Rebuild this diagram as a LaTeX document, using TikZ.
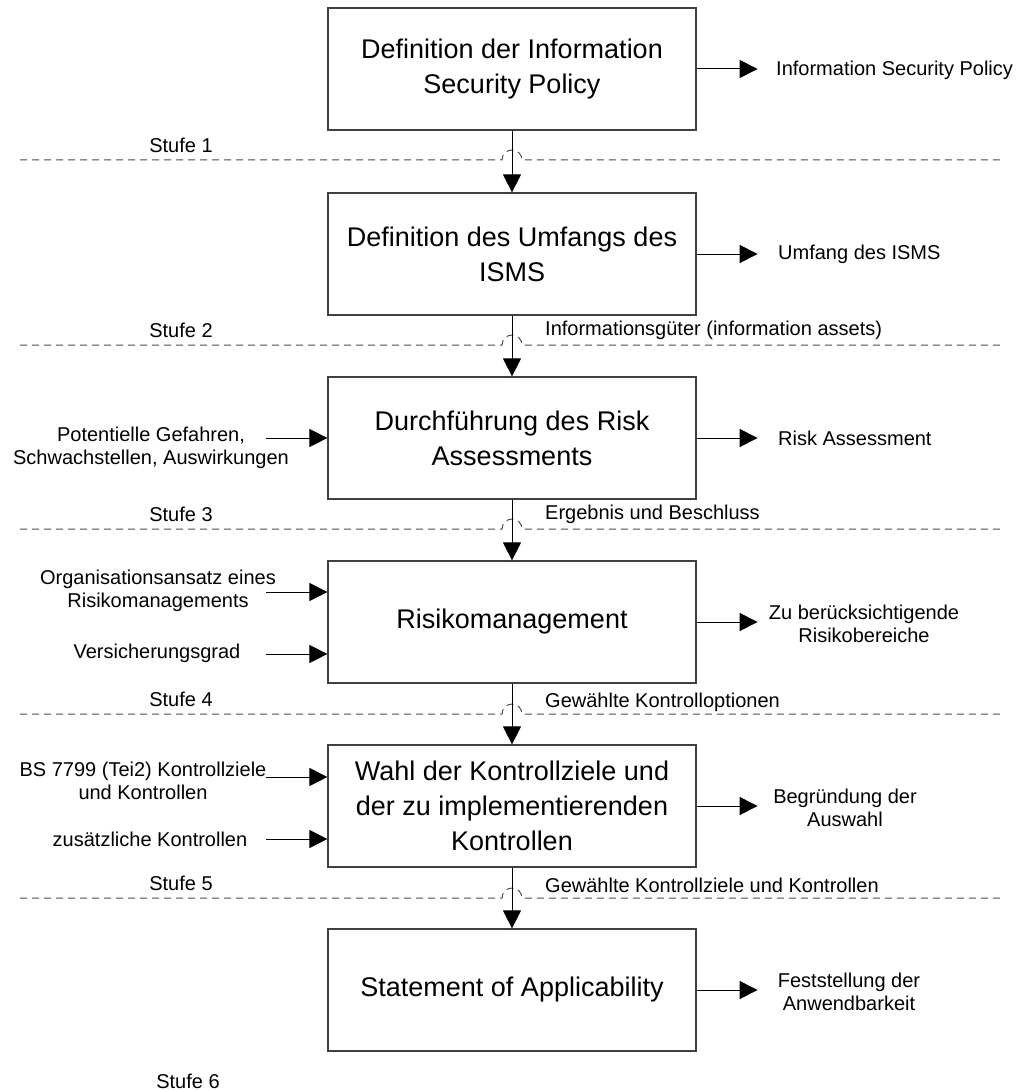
\documentclass[tikz,border=0pt]{standalone}
\usepackage{fontspec}
\setmainfont{Liberation Sans}
\usetikzlibrary{arrows.meta,positioning,calc}
\tikzset{
  stepbox/.style = {draw=black!75, fill=white, line width=1.2pt,
                    minimum width=368pt, minimum height=122pt, inner sep=0pt,
                    align=center, font=\fontsize{27}{35}\selectfont},
  lbl/.style     = {align=center, inner sep=0pt, font=\fontsize{20}{23}\selectfont},
  flow/.style    = {-{Triangle[length=18pt,width=18pt]}, draw=black, line width=1pt},
  stufe/.style   = {draw=black!70, line width=1pt, dash pattern=on 7pt off 5pt},
}
\begin{document}
\begin{tikzpicture}[x=1pt,y=-1pt]
  \useasboundingbox (0,0) rectangle (1018,1091);

  % steps
  \node[stepbox] (s1) at (512,69)  {Definition der Information\\Security Policy};
  \node[stepbox] (s2) at (512,254) {Definition des Umfangs des\\ISMS};
  \node[stepbox] (s3) at (512,438) {Durchführung des Risk\\Assessments};
  \node[stepbox] (s4) at (512,622) {Risikomanagement};
  \node[stepbox] (s5) at (512,806) {Wahl der Kontrollziele und\\der zu implementierenden\\Kontrollen};
  \node[stepbox] (s6) at (512,990) {Statement of Applicability};

  % stage separators, hopping over the main flow
  \foreach \y/\n in {160/1,345/2,529/3,714/4,898/5}{
    \draw[stufe] (20,\y) -- (502,\y) arc[start angle=180,end angle=0,radius=10pt] -- (1000,\y);
    \node[lbl] (stufe\n) at (181,\y-15) {Stufe \n};
  }
  \node[lbl] (stufe6) at (188,1081) {Stufe 6};

  % main flow
  \foreach \a/\b in {s1/s2,s2/s3,s3/s4,s4/s5,s5/s6}
    \draw[flow] (\a) -- (\b);

  \node[lbl,anchor=west] (c2) at (545,330) {Informationsgüter (information assets)};
  \node[lbl,anchor=west] (c3) at (545,514) {Ergebnis und Beschluss};
  \node[lbl,anchor=west] (c4) at (545,702) {Gewählte Kontrolloptionen};
  \node[lbl,anchor=west] (c5) at (545,885) {Gewählte Kontrollziele und Kontrollen};

  % outputs
  \foreach \s in {1,...,6}{
    \coordinate (o\s) at ($(s\s.east)+(61,0)$);
    \draw[flow] (s\s.east) -- (o\s);
  }
  \node[lbl,anchor=west] (out1) at (776,70)  {Information Security Policy};
  \node[lbl,anchor=west] (out2) at (778,254) {Umfang des ISMS};
  \node[lbl,anchor=west] (out3) at (778,438) {Risk Assessment};
  \node[lbl] (out4) at (864,624) {Zu berücksichtigende\\Risikobereiche};
  \node[lbl] (out5) at (845,808) {Begründung der\\Auswahl};
  \node[lbl] (out6) at (849,992) {Feststellung der\\Anwendbarkeit};

  % inputs
  \coordinate (i3)  at (266,438);
  \coordinate (i4a) at (266,592);
  \coordinate (i4b) at (266,654);
  \coordinate (i5a) at (266,777);
  \coordinate (i5b) at (266,839);
  \draw[flow] (i3)  -- (i3 -| s3.west);
  \draw[flow] (i4a) -- (i4a -| s4.west);
  \draw[flow] (i4b) -- (i4b -| s4.west);
  \draw[flow] (i5a) -- (i5a -| s5.west);
  \draw[flow] (i5b) -- (i5b -| s5.west);
  \node[lbl] (in3)  at (151,448) {Potentielle Gefahren,\\Schwachstellen, Auswirkungen};
  \node[lbl] (in4a) at (158,591) {Organisationsansatz eines\\Risikomanagements};
  \node[lbl] (in4b) at (157,653) {Versicherungsgrad};
  \node[lbl] (in5a) at (143,781) {BS 7799 (Tei2) Kontrollziele\\und Kontrollen};
  \node[lbl] (in5b) at (150,839) {zusätzliche Kontrollen};
\end{tikzpicture}
\end{document}
